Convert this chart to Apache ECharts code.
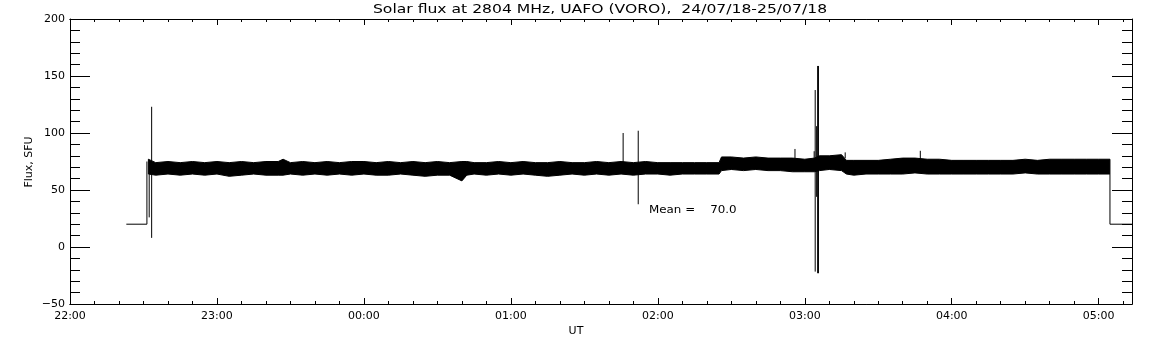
<!DOCTYPE html>
<html>
<head>
<meta charset="utf-8">
<script src="https://cdn.jsdelivr.net/npm/echarts@6/dist/echarts.min.js"></script>
<style>
  html, body { margin: 0; padding: 0; background: #fff; }
  #chart { width: 1152px; height: 345px; }
</style>
</head>
<body>
<div id="chart"></div>
<script>
const titleText = 'Solar flux at 2804 MHz, UAFO (VORO),  24/07/18-25/07/18'
const xName = 'UT'
const yName = 'Flux, SFU'
const meanText = 'Mean =    70.0'
const xTickLabels = ['22:00', '23:00', '00:00', '01:00', '02:00', '03:00', '04:00', '05:00']
const xEnd = '05:13:36'

// envelope of the dense 1-s trace (low / high edge, SFU)
const bandTimes = [
  '22:32', '22:35', '22:40', '22:45', '22:50', '22:55', '23:00', '23:05', '23:10', '23:15',
  '23:20', '23:25', '23:27', '23:30', '23:35', '23:40', '23:45', '23:50', '23:55', '00:00',
  '00:05', '00:10', '00:15', '00:20', '00:25', '00:30', '00:35', '00:40', '00:42', '00:45',
  '00:50', '00:55', '01:00', '01:05', '01:10', '01:15', '01:20', '01:25', '01:30', '01:35',
  '01:40', '01:45', '01:50', '01:55', '02:00', '02:05', '02:10', '02:15', '02:20', '02:25',
  '02:26', '02:30', '02:35', '02:40', '02:45', '02:50', '02:55', '03:00', '03:04', '03:06',
  '03:10', '03:15', '03:17', '03:20', '03:25', '03:30', '03:35', '03:40', '03:45', '03:50',
  '03:55', '04:00', '04:05', '04:10', '04:15', '04:20', '04:25', '04:30', '04:35', '04:40',
  '04:45', '04:50', '04:55', '05:00', '05:04:36'
]
const bandLow = [
  64, 63, 64, 63, 64, 63, 64, 62, 63, 64,
  63, 63, 63, 64, 63, 64, 63, 64, 63, 64,
  63, 63, 64, 63, 62, 63, 63, 58, 63, 64,
  63, 64, 63, 64, 63, 62, 63, 64, 63, 64,
  63, 64, 63, 64, 64, 63, 64, 64, 64, 64,
  67, 68, 67, 68, 67, 67, 66, 66, 66, 67,
  68, 67, 64, 63, 64, 64, 64, 64, 65, 64,
  64, 64, 64, 64, 64, 64, 64, 65, 64, 64,
  64, 64, 64, 64, 64
]
const bandHigh = [
  77, 74, 75, 74, 75, 74, 75, 74, 75, 74,
  75, 75, 77, 74, 75, 74, 75, 74, 75, 75,
  74, 75, 74, 75, 74, 75, 74, 75, 75, 74,
  74, 75, 74, 75, 74, 74, 75, 74, 74, 75,
  74, 75, 74, 75, 74, 74, 74, 74, 74, 74,
  79, 79, 78, 79, 78, 78, 78, 77, 78, 80,
  80, 81, 76, 76, 76, 76, 77, 78, 78, 77,
  77, 76, 76, 76, 76, 76, 76, 77, 76, 77,
  77, 77, 77, 77, 77
]

// single strokes outside the band: calibration steps and interference spikes
const strokes = [
  [['22:23', 20], ['22:31:24', 20], ['22:31:24', 75]],
  [['22:32:20', 64], ['22:32:20', 26]],
  [['22:33:20', 8], ['22:33:20', 123]],
  [['01:45:50', 74], ['01:45:50', 100]],
  [['01:52:00', 37.5], ['01:52:00', 102]],
  [['02:56:00', 77], ['02:56:00', 86]],
  [['03:03:50', 77], ['03:03:50', 84]],
  [['03:04:15', -21.6], ['03:04:15', 137.7]],
  [['03:04:50', 44], ['03:04:50', 106]],
  [['03:05:15', -23], ['03:05:15', 158.8]],
  [['03:05:35', -23], ['03:05:35', 158.8]],
  [['03:16:30', 78], ['03:16:30', 83]],
  [['03:47:10', 77], ['03:47:10', 84.4]],
  [['05:04:36', 64], ['05:04:36', 20], [xEnd, 20]]
]

// minutes since 22:00
function toMin(s) {
  const [h, m, sec = 0] = s.split(':').map(Number)
  return ((h < 12 ? h + 24 : h) - 22) * 60 + m + sec / 60
}

const FONT = 'DejaVu Sans'
const xMax = toMin(xEnd)
const bandData = bandTimes.map((t, i) => [toMin(t), bandLow[i], bandHigh[i]])

function xAxis(position, interval, tickLen, labels) {
  return {
    type: 'value',
    position,
    min: 0,
    max: xMax,
    interval,
    axisLine: { show: true, onZero: false, lineStyle: { color: '#000', width: 1 } },
    axisTick: { show: true, inside: true, length: tickLen, lineStyle: { color: '#000', width: 1 } },
    axisLabel: {
      show: labels,
      color: '#000',
      fontFamily: FONT,
      fontSize: 11,
      margin: 7,
      showMaxLabel: false,
      formatter: v => (Math.abs(v % 60) < 1e-6 ? xTickLabels[v / 60] || '' : '')
    },
    splitLine: { show: false }
  }
}

function yAxis(position, labels) {
  return {
    type: 'value',
    position,
    min: -50,
    max: 200,
    interval: 50,
    axisLine: { show: true, onZero: false, lineStyle: { color: '#000', width: 1 } },
    axisTick: { show: true, inside: true, length: 20, lineStyle: { color: '#000', width: 1 } },
    minorTick: { show: true, splitNumber: 5, length: 10, lineStyle: { color: '#000', width: 1 } },
    axisLabel: {
      show: labels,
      color: '#000',
      fontFamily: FONT,
      fontSize: 11,
      margin: 5,
      formatter: v => (v < 0 ? '\u2212' + Math.abs(v) : String(v))
    },
    splitLine: { show: false }
  }
}

const chart = echarts.init(document.getElementById('chart'), null, { renderer: 'canvas' })

const series = [{
  type: 'custom',
  xAxisIndex: 0,
  yAxisIndex: 0,
  data: bandData,
  encode: { x: 0, y: [1, 2] },
  silent: true,
  renderItem(params, api) {
    if (params.dataIndex !== 0) return null
    const upper = bandData.map(d => api.coord([d[0], d[2]]))
    const lower = bandData.map(d => api.coord([d[0], d[1]])).reverse()
    return {
      type: 'polygon',
      shape: { points: upper.concat(lower) },
      style: { fill: '#000', stroke: '#000', lineWidth: 1 }
    }
  }
}]

strokes.forEach(s => {
  series.push({
    type: 'line',
    xAxisIndex: 0,
    yAxisIndex: 0,
    data: s.map(p => [toMin(p[0]), p[1]]),
    symbol: 'none',
    silent: true,
    lineStyle: { color: '#000', width: 1 },
    z: 3
  })
})

chart.setOption({
  animation: false,
  backgroundColor: '#fff',
  grid: { left: 70, right: 20, top: 19, bottom: 41, containLabel: false },
  xAxis: [
    xAxis('bottom', 60, 6, true),
    xAxis('bottom', 10, 3, false),
    xAxis('top', 60, 6, false),
    xAxis('top', 10, 3, false)
  ],
  yAxis: [yAxis('left', true), yAxis('right', false)],
  graphic: [
    { type: 'text', x: 600, y: 10, scaleX: 1.2, style: { text: titleText, font: '13px ' + FONT, fill: '#000', align: 'center', verticalAlign: 'middle' } },
    { type: 'text', x: 576, y: 331, style: { text: xName, font: '11px ' + FONT, fill: '#000', align: 'center', verticalAlign: 'middle' } },
    { type: 'text', x: 29, y: 162, rotation: Math.PI / 2, style: { text: yName, font: '11px ' + FONT, fill: '#000', align: 'center', verticalAlign: 'middle' } },
    { type: 'text', x: 649, y: 210, scaleX: 1.08, style: { text: meanText, font: '11px ' + FONT, fill: '#000', align: 'left', verticalAlign: 'middle' } }
  ],
  series
})
</script>
</body>
</html>
